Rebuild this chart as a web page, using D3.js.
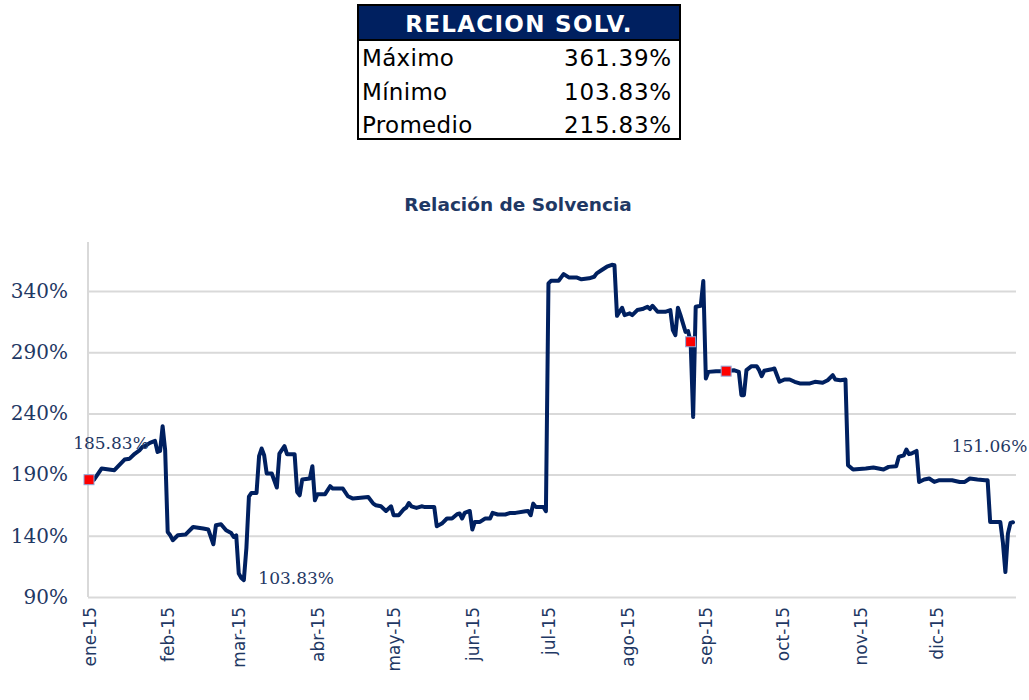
<!DOCTYPE html>
<html>
<head>
<meta charset="utf-8">
<script src="https://cdn.jsdelivr.net/npm/d3@7"></script>
<style>
  body { margin: 0; background: #fff; }
</style>
</head>
<body>
<div id="chart"></div>
<script>
// summary table
const tableTitle = "RELACION SOLV.";
const tableLabels = ["Máximo", "Mínimo", "Promedio"];
const tableValues = ["361.39%", "103.83%", "215.83%"];

// chart
const chartTitle = "Relación de Solvencia";
const monthLabels = ["ene-15", "feb-15", "mar-15", "abr-15", "may-15", "jun-15",
                     "jul-15", "ago-15", "sep-15", "oct-15", "nov-15", "dic-15"];
const yTicks = [90, 140, 190, 240, 290, 340];

const dates = [
  "2015-01-01","2015-01-03","2015-01-06","2015-01-11","2015-01-15","2015-01-17","2015-01-19","2015-01-21",
  "2015-01-22","2015-01-23","2015-01-25","2015-01-26","2015-01-27","2015-01-28","2015-01-29","2015-01-30",
  "2015-01-31","2015-02-01","2015-02-02","2015-02-03","2015-02-05","2015-02-08","2015-02-11","2015-02-15",
  "2015-02-17","2015-02-19","2015-02-20","2015-02-22","2015-02-24","2015-02-26","2015-02-27","2015-02-28",
  "2015-03-01","2015-03-02","2015-03-03","2015-03-04","2015-03-05","2015-03-06","2015-03-08","2015-03-09",
  "2015-03-10","2015-03-11","2015-03-12","2015-03-14","2015-03-16","2015-03-17","2015-03-19","2015-03-20",
  "2015-03-23","2015-03-24","2015-03-25","2015-03-26","2015-03-29","2015-03-30","2015-03-31","2015-04-01",
  "2015-04-04","2015-04-06","2015-04-07","2015-04-11","2015-04-13","2015-04-15","2015-04-17","2015-04-21",
  "2015-04-23","2015-04-24","2015-04-26","2015-04-28","2015-04-30","2015-05-01","2015-05-03","2015-05-05",
  "2015-05-06","2015-05-07","2015-05-08","2015-05-10","2015-05-12","2015-05-13","2015-05-17","2015-05-18",
  "2015-05-20","2015-05-22","2015-05-24","2015-05-26","2015-05-27","2015-05-28","2015-05-29","2015-05-31",
  "2015-06-01","2015-06-02","2015-06-04","2015-06-06","2015-06-08","2015-06-09","2015-06-11","2015-06-14",
  "2015-06-16","2015-06-18","2015-06-22","2015-06-23","2015-06-24","2015-06-25","2015-06-26","2015-06-29",
  "2015-06-30","2015-07-01","2015-07-02","2015-07-05","2015-07-06","2015-07-07","2015-07-09","2015-07-12",
  "2015-07-14","2015-07-17","2015-07-19","2015-07-20","2015-07-22","2015-07-24","2015-07-26","2015-07-27",
  "2015-07-28","2015-07-29","2015-07-30","2015-07-31","2015-08-02","2015-08-03","2015-08-05","2015-08-07",
  "2015-08-09","2015-08-10","2015-08-11","2015-08-13","2015-08-16","2015-08-18","2015-08-19","2015-08-20",
  "2015-08-21","2015-08-22","2015-08-24","2015-08-25","2015-08-26","2015-08-27","2015-08-28","2015-08-30",
  "2015-08-31","2015-09-01","2015-09-02","2015-09-05","2015-09-09","2015-09-12","2015-09-14","2015-09-15",
  "2015-09-16","2015-09-17","2015-09-19","2015-09-21","2015-09-22","2015-09-23","2015-09-24","2015-09-27",
  "2015-09-28","2015-09-30","2015-10-02","2015-10-04","2015-10-06","2015-10-08","2015-10-12","2015-10-14",
  "2015-10-17","2015-10-19","2015-10-21","2015-10-22","2015-10-24","2015-10-26","2015-10-27","2015-10-29",
  "2015-11-03","2015-11-06","2015-11-10","2015-11-12","2015-11-15","2015-11-16","2015-11-18","2015-11-19",
  "2015-11-20","2015-11-21","2015-11-23","2015-11-24","2015-11-26","2015-11-28","2015-11-30","2015-12-02",
  "2015-12-07","2015-12-10","2015-12-12","2015-12-14","2015-12-17","2015-12-20","2015-12-21","2015-12-22",
  "2015-12-24","2015-12-26","2015-12-27","2015-12-28","2015-12-29","2015-12-30","2015-12-31"
];

const values = [
  185.83,185.8,195.0,193.6,202.3,203.0,207.0,210.0,
  212.6,213.2,215.9,216.7,217.5,208.5,209.3,229.5,
  210.0,143.1,140.4,136.4,140.4,141.0,147.2,145.9,
  145.1,133.1,148.6,149.4,144.5,142.3,139.0,140.4,
  109.1,105.5,103.83,130.0,172.0,175.0,175.0,205.0,
  211.3,205.8,190.9,190.9,179.4,207.2,213.2,206.7,
  206.7,175.8,173.1,186.0,186.8,196.8,169.0,174.0,
  174.0,180.5,178.6,178.6,172.3,170.4,170.9,171.7,
  166.3,165.0,164.1,160.3,164.1,156.8,156.8,161.7,
  163.1,166.8,164.1,162.8,164.1,163.6,163.6,147.8,
  150.0,154.1,154.1,157.6,158.2,154.1,158.7,160.3,
  145.1,151.3,151.3,154.1,154.1,158.7,157.4,157.4,
  158.7,158.7,160.1,160.3,156.8,166.3,163.6,163.6,
  160.1,346.2,348.3,348.3,351.1,353.8,351.1,351.1,
  349.5,350.3,351.6,354.4,357.1,359.8,361.39,361.0,
  319.7,323.0,326.3,320.3,321.7,320.3,324.4,325.2,
  327.1,325.2,327.9,323.0,323.0,324.4,308.0,303.9,
  326.3,320.3,306.6,307.2,298.5,237.1,327.1,327.9,
  348.1,268.5,273.9,274.5,274.5,275.3,273.9,254.9,
  254.9,275.3,278.6,278.6,275.3,270.4,274.8,276.0,
  276.7,265.8,267.7,267.7,265.8,264.5,264.5,265.8,
  265.0,267.1,271.2,267.7,267.1,267.7,197.7,194.1,
  195.0,195.8,194.1,196.3,196.8,204.4,205.8,210.5,
  206.7,207.2,209.3,184.0,186.0,186.8,184.0,185.4,
  185.4,184.0,184.0,186.8,186.0,185.4,185.4,151.3,
  151.3,151.3,135.0,110.4,141.8,150.5,151.06
];

// highlighted points and labelled points
const markerDates = ["2015-01-01", "2015-08-26", "2015-09-09"];
const labelDates = ["2015-01-01", "2015-03-03", "2015-12-31"];
const labelOffsets = [[22, -31], [14.5, 4], [-23.5, -70]];
const labelAnchors = ["middle", "start", "middle"];

const parse = d3.timeParse("%Y-%m-%d");
const data = dates.map((d, i) => ({ date: parse(d), value: values[i] }));
const byDate = new Map(dates.map((d, i) => [d, data[i]]));

const navy = "#002060";
const textNavy = "#1f3864";
const gridColor = "#d9d9d9";

const svg = d3.select("#chart").append("svg")
    .attr("width", 1029)
    .attr("height", 700);

// 1. Summary table
const tbl = { x: 358, y: 5, w: 322, h: 134, head: 35 };
const table = svg.append("g");

table.append("rect")
    .attr("x", tbl.x).attr("y", tbl.y)
    .attr("width", tbl.w).attr("height", tbl.head)
    .attr("fill", navy);

table.append("text")
    .text(tableTitle)
    .attr("x", tbl.x + tbl.w / 2)
    .attr("y", tbl.y + 26.5)
    .attr("text-anchor", "middle")
    .style("font-family", "DejaVu Sans")
    .style("font-weight", "bold")
    .style("font-size", "23px")
    .style("letter-spacing", "1.3px")
    .style("fill", "#fff");

table.append("line")
    .attr("x1", tbl.x).attr("x2", tbl.x + tbl.w)
    .attr("y1", tbl.y + tbl.head).attr("y2", tbl.y + tbl.head)
    .attr("stroke", "#000").attr("stroke-width", 2);

const rowY = d3.scalePoint().domain(tableLabels).range([66, 133]);

table.selectAll(".row-label")
    .data(tableLabels)
    .enter()
    .append("text")
    .attr("class", "row-label")
    .text(d => d)
    .attr("x", tbl.x + 4)
    .attr("y", d => rowY(d))
    .style("font-family", "DejaVu Sans")
    .style("font-size", "23px")
    .style("letter-spacing", "0.3px")
    .style("fill", "#000");

table.selectAll(".row-value")
    .data(tableValues)
    .enter()
    .append("text")
    .attr("class", "row-value")
    .text(d => d)
    .attr("x", tbl.x + tbl.w - 8)
    .attr("y", (d, i) => rowY(tableLabels[i]))
    .attr("text-anchor", "end")
    .style("font-family", "DejaVu Sans")
    .style("font-size", "23px")
    .style("letter-spacing", "0.8px")
    .style("fill", "#000");

table.append("rect")
    .attr("x", tbl.x).attr("y", tbl.y)
    .attr("width", tbl.w).attr("height", tbl.h)
    .attr("fill", "none")
    .attr("stroke", "#000")
    .attr("stroke-width", 2);

// 2. Chart title
svg.append("text")
    .text(chartTitle)
    .attr("x", 518)
    .attr("y", 211)
    .attr("text-anchor", "middle")
    .style("font-family", "DejaVu Sans")
    .style("font-weight", "bold")
    .style("font-size", "18.5px")
    .style("fill", textNavy);

// 3. Scales
const plot = { left: 88, right: 1016, top: 242, bottom: 597 };

const x = d3.scaleTime()
    .domain([parse("2015-01-01"), parse("2015-12-31")])
    .range([89, 1013]);

const y = d3.scaleLinear()
    .domain([90, 380])
    .range([plot.bottom, plot.top]);

// 4. Y axis with gridlines
const yAxis = svg.append("g")
    .attr("transform", `translate(${plot.left},0)`)
    .call(d3.axisLeft(y)
        .tickValues(yTicks)
        .tickSize(-(plot.right - plot.left))
        .tickPadding(20)
        .tickFormat(d => d + "%"));

yAxis.select(".domain").remove();
yAxis.selectAll("line")
    .attr("stroke", gridColor)
    .attr("stroke-width", 2);
yAxis.selectAll("text")
    .style("font-family", "DejaVu Serif")
    .style("font-size", "20px")
    .style("fill", textNavy);

// vertical axis line
svg.append("line")
    .attr("x1", plot.left).attr("x2", plot.left)
    .attr("y1", plot.top).attr("y2", plot.bottom)
    .attr("stroke", gridColor)
    .attr("stroke-width", 2);

// 5. X axis (month labels, rotated)
const monthStarts = d3.timeMonth.range(parse("2015-01-01"), parse("2015-12-31"));

const xAxis = svg.append("g")
    .attr("transform", `translate(0,${plot.bottom})`)
    .call(d3.axisBottom(x)
        .tickValues(monthStarts)
        .tickSize(0)
        .tickFormat((d, i) => monthLabels[i]));

xAxis.select(".domain").remove();
xAxis.selectAll("text")
    .attr("transform", "rotate(-90)")
    .attr("x", -10)
    .attr("y", 0)
    .attr("dy", "0.36em")
    .attr("text-anchor", "end")
    .style("font-family", "DejaVu Sans")
    .style("font-size", "17px")
    .style("fill", textNavy);

// 6. Line
const line = d3.line()
    .x(d => x(d.date))
    .y(d => y(d.value));

svg.append("path")
    .datum(data)
    .attr("d", line)
    .attr("fill", "none")
    .attr("stroke", navy)
    .attr("stroke-width", 4)
    .attr("stroke-linejoin", "round")
    .attr("stroke-linecap", "round");

// 7. Red markers
svg.selectAll(".marker")
    .data(markerDates.map(d => byDate.get(d)))
    .enter()
    .append("rect")
    .attr("class", "marker")
    .attr("x", d => x(d.date) - 5)
    .attr("y", d => y(d.value) - 5)
    .attr("width", 10)
    .attr("height", 10)
    .attr("fill", "#ff0000")
    .attr("stroke", "#8ea9db")
    .attr("stroke-width", 1);

// 8. Data labels
svg.selectAll(".data-label")
    .data(labelDates.map(d => byDate.get(d)))
    .enter()
    .append("text")
    .attr("class", "data-label")
    .text(d => d.value.toFixed(2) + "%")
    .attr("x", (d, i) => x(d.date) + labelOffsets[i][0])
    .attr("y", (d, i) => y(d.value) + labelOffsets[i][1])
    .attr("text-anchor", (d, i) => labelAnchors[i])
    .style("font-family", "DejaVu Serif")
    .style("font-size", "17px")
    .style("fill", textNavy);
</script>
</body>
</html>
